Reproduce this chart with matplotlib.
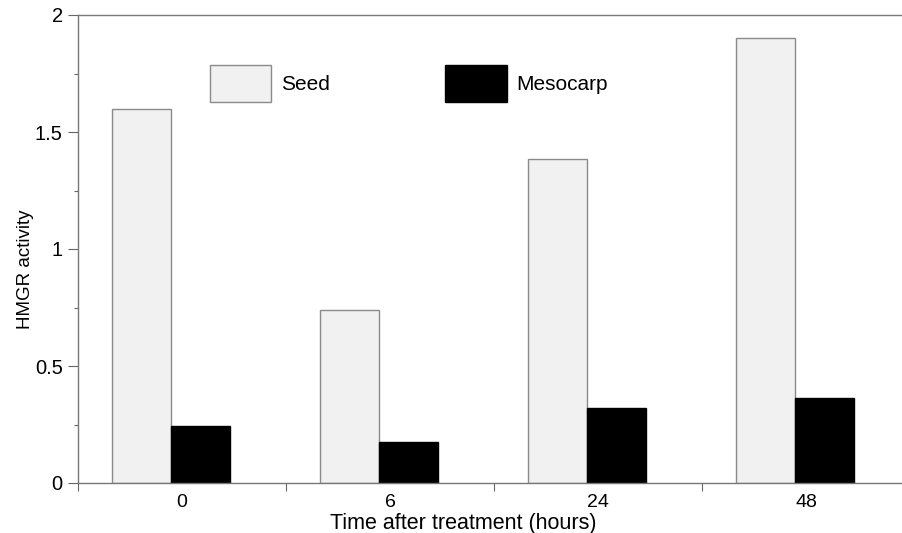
import matplotlib
matplotlib.use("Agg")
import matplotlib.pyplot as plt
import numpy as np
from matplotlib.ticker import MultipleLocator, FixedLocator

plt.rcParams['font.family'] = ['Liberation Sans', 'DejaVu Sans']

categories = ["0", "6", "24", "48"]
seed = [1.60, 0.74, 1.385, 1.90]
mesocarp = [0.245, 0.175, 0.32, 0.365]

fig = plt.figure(figsize=(9.02, 5.33), dpi=100)
ax = fig.add_axes([78/902, 50/533, 832/902, 468/533])

x = np.arange(len(categories))
w = 0.285
shift = -0.053
ax.bar(x + shift - w/2, seed, width=w, color='#f1f1f1', edgecolor='#8a8a8a', linewidth=1.0, label='Seed')
ax.bar(x + shift + w/2, mesocarp, width=w, color='black', edgecolor='black', linewidth=1.0, label='Mesocarp')

ax.set_xlim(-0.5, len(categories) - 0.5)
ax.set_ylim(0, 2)
ax.set_xticks(x)
ax.set_xticklabels(categories, fontsize=14)
ax.tick_params(axis='x', which='major', length=0, pad=8)
ax.xaxis.set_minor_locator(FixedLocator(np.arange(-0.5, len(categories), 1.0)))
ax.tick_params(axis='x', which='minor', length=6, width=0.8, color='#666666', direction='out')

ax.set_yticks([0, 0.5, 1, 1.5, 2])
ax.set_yticklabels(["0", "0.5", "1", "1.5", "2"], fontsize=14.5)
ax.yaxis.set_minor_locator(MultipleLocator(0.25))
ax.tick_params(axis='y', which='major', length=7, width=0.8, color='#666666', direction='out', pad=4)
ax.tick_params(axis='y', which='minor', length=3, width=0.8, color='#666666', direction='out')

for s in ['left', 'bottom', 'top']:
    ax.spines[s].set_color('#777777')
    ax.spines[s].set_linewidth(1.0)
ax.spines['right'].set_visible(False)

ax.set_xlabel("Time after treatment (hours)", fontsize=15.5, labelpad=1)
ax.xaxis.set_label_coords(0.463, -0.065, transform=ax.transAxes)
ax.xaxis.label.set_va('top')
ax.set_ylabel("HMGR activity", fontsize=13.5)
ax.yaxis.set_label_coords(34/902, (533 - 269)/533, transform=fig.transFigure)

leg = ax.legend(ncol=2, frameon=False, fontsize=15, handlelength=2.95, handleheight=2.36,
                handletextpad=0.45, columnspacing=5.55, loc='upper left',
                bbox_to_anchor=(132/832, 1 - 50/468), borderaxespad=0, borderpad=0)

fig.savefig("out.png", dpi=100)
